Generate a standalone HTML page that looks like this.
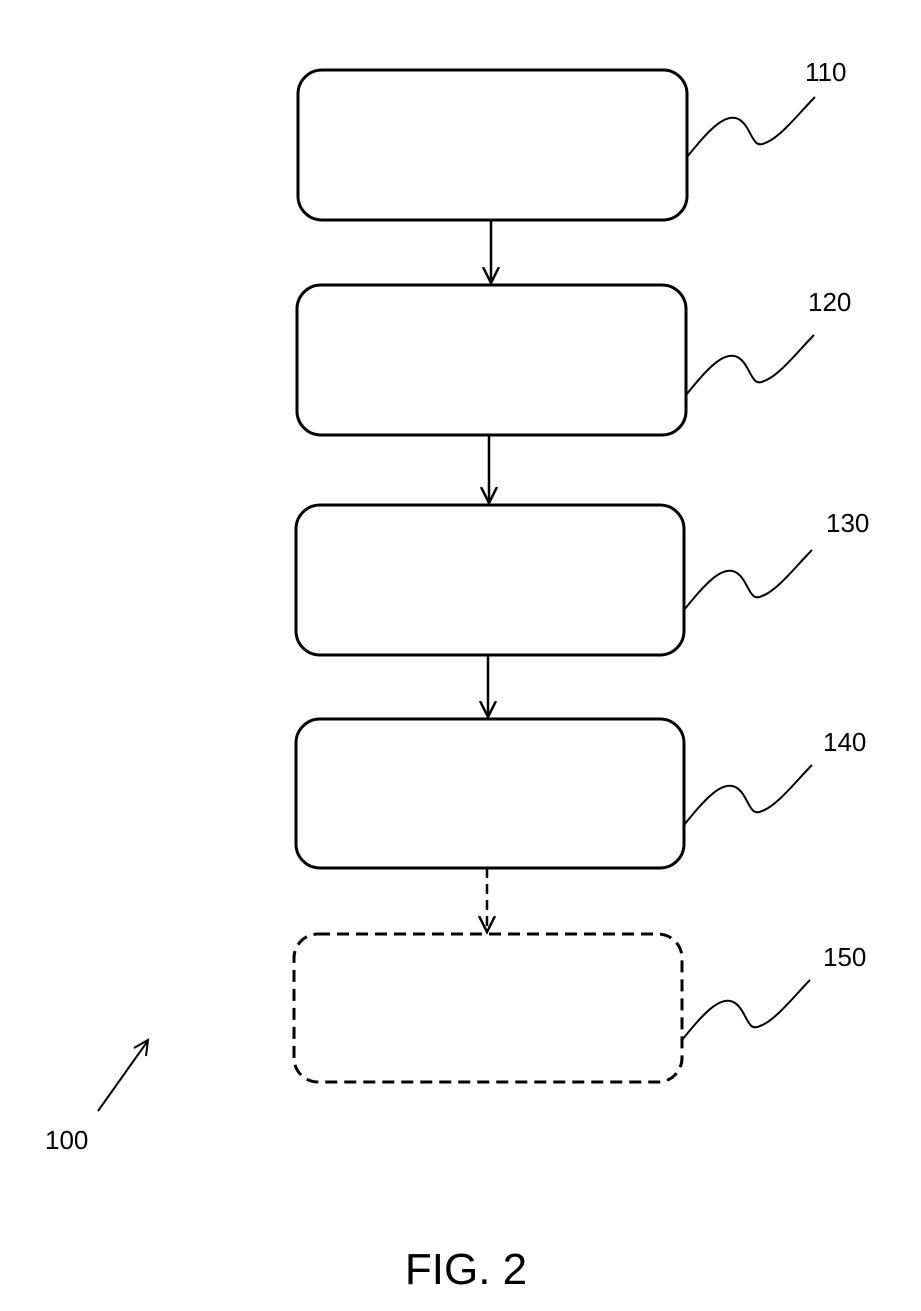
<!DOCTYPE html>
<html><head><style>body{margin:0;background:#fff}svg{display:block}</style></head><body>
<svg width="921" height="1311" viewBox="0 0 921 1311" xmlns="http://www.w3.org/2000/svg" font-family="Liberation Sans, sans-serif">
<defs><marker id="a" markerWidth="20" markerHeight="20" refX="16" refY="9" orient="auto" markerUnits="userSpaceOnUse"><path d="M0,1 L16,9 L0,17" fill="none" stroke="#000" stroke-width="2.5"/></marker></defs>
<g fill="none" stroke="#000" stroke-width="3">
<rect x="298" y="70" width="389" height="150" rx="24"/>
<rect x="297" y="285" width="389" height="150" rx="24"/>
<rect x="296" y="505" width="388" height="150" rx="24"/>
<rect x="296" y="719" width="388" height="149" rx="24"/>
<rect x="294" y="934" width="388" height="148" rx="24" stroke-dasharray="12,7"/>
</g>
<g stroke="#000" stroke-width="2.5" fill="none">
<line x1="491" y1="220" x2="491" y2="283" marker-end="url(#a)"/>
<line x1="489" y1="435" x2="489" y2="503" marker-end="url(#a)"/>
<line x1="488" y1="655" x2="488" y2="717" marker-end="url(#a)"/>
<line x1="487" y1="868" x2="487" y2="932" stroke-dasharray="10,6" marker-end="url(#a)"/>
</g>
<g stroke="#000" stroke-width="2" fill="none">
<path d="M687,157 C705,135 725,110 740,120 C752,128 752,150 765,143 C780,138 800,112 815,97"/>
<path d="M686,395 C704,373 724,348 739,358 C751,366 751,388 764,381 C779,376 799,350 814,335"/>
<path d="M684,610 C702,588 722,563 737,573 C749,581 749,603 762,596 C777,591 797,565 812,550"/>
<path d="M684,825 C702,803 722,778 737,788 C749,796 749,818 762,811 C777,806 797,780 812,765"/>
<path d="M682,1040 C700,1018 720,993 735,1003 C747,1011 747,1033 760,1026 C775,1021 795,995 810,980"/>
<line x1="98" y1="1111" x2="147" y2="1042"/>
<path d="M134,1048 L148,1040 L146,1056"/>
</g>
<g font-size="26" fill="#000">
<text x="805" y="81">110</text>
<text x="808" y="311">120</text>
<text x="826" y="532">130</text>
<text x="823" y="751">140</text>
<text x="823" y="966">150</text>
<text x="45" y="1149">100</text>
</g>
<text x="466" y="1284" font-size="44" text-anchor="middle">FIG. 2</text>
</svg>
</body></html>
